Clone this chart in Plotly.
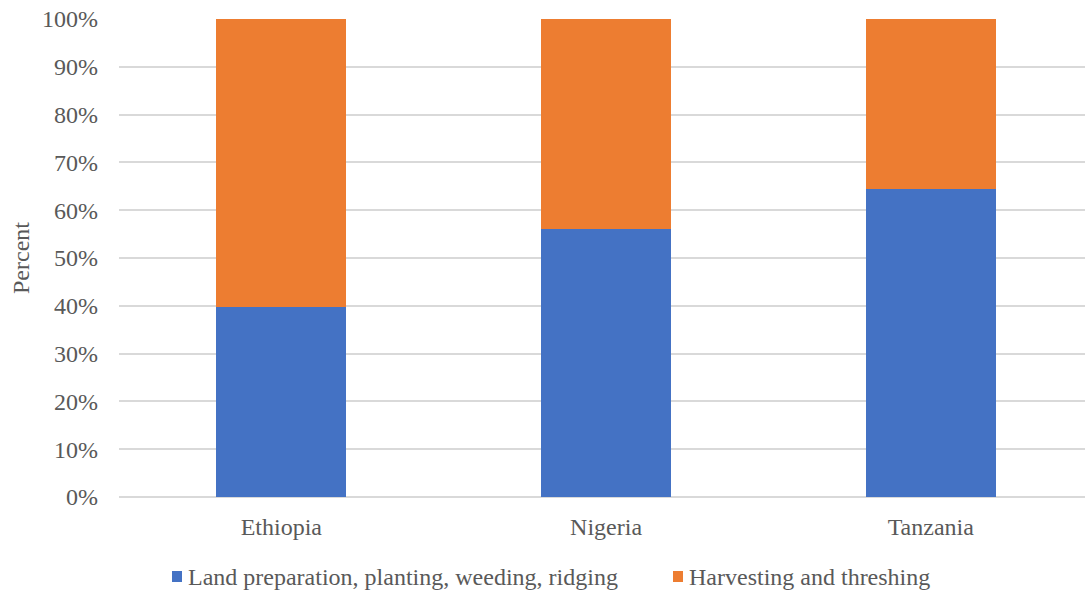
import plotly.graph_objects as go

# Share of labour by activity, per country (percent of total)
countries = ["Ethiopia", "Nigeria", "Tanzania"]
land_prep = [39.8, 56.1, 64.5]
harvesting = [60.2, 43.9, 35.5]
series_names = ["Land preparation, planting, weeding, ridging", "Harvesting and threshing"]
series_colors = ["#4472C4", "#ED7D31"]
y_ticks = [0, 10, 20, 30, 40, 50, 60, 70, 80, 90, 100]
y_tick_labels = [f"{t}%" for t in y_ticks]

FONT = "Liberation Serif"
FONT_SIZE = 24
TEXT_COLOR = "#595959"

fig = go.Figure()
for name, vals, color in zip(series_names, [land_prep, harvesting], series_colors):
    fig.add_trace(go.Bar(
        x=countries, y=vals, name=name,
        marker=dict(color=color, line=dict(width=0)),
        width=0.4,
    ))

fig.update_layout(
    barmode="stack",
    width=1085, height=592,
    margin=dict(l=119, r=0, t=19, b=95),
    plot_bgcolor="white", paper_bgcolor="white",
    showlegend=False,
    font=dict(family=FONT, size=FONT_SIZE, color=TEXT_COLOR),
    xaxis=dict(
        range=[-0.5, 2.475],
        showgrid=False, showline=False, zeroline=False,
        ticks="", ticklabelstandoff=13,
        tickfont=dict(family=FONT, size=FONT_SIZE, color=TEXT_COLOR),
    ),
    yaxis=dict(
        range=[0, 100],
        tickvals=y_ticks, ticktext=y_tick_labels,
        showgrid=True, gridcolor="#D9D9D9", gridwidth=1.5,
        zeroline=True, zerolinecolor="#D9D9D9", zerolinewidth=1.5,
        showline=False, ticks="", ticklabelstandoff=20,
        tickfont=dict(family=FONT, size=FONT_SIZE, color=TEXT_COLOR),
        title=dict(text="Percent", font=dict(family=FONT, size=FONT_SIZE, color=TEXT_COLOR), standoff=5),
    ),
)

# Legend drawn beneath the plot: colour swatch followed by series name
legend_swatch_x = [172, 673]
for sx, name, color in zip(legend_swatch_x, series_names, series_colors):
    fig.add_shape(type="rect", xref="paper", yref="paper",
                  x0=(sx - 119) / 966, x1=(sx + 10 - 119) / 966,
                  y0=(497 - 582) / 478, y1=(497 - 571) / 478,
                  fillcolor=color, line=dict(width=0))
    fig.add_annotation(xref="paper", yref="paper",
                       x=(sx + 14 - 119) / 966, y=(497 - 577) / 478,
                       xanchor="left", yanchor="middle", showarrow=False,
                       text=name, font=dict(size=FONT_SIZE, color=TEXT_COLOR, family=FONT))

fig.write_html("out.html")
